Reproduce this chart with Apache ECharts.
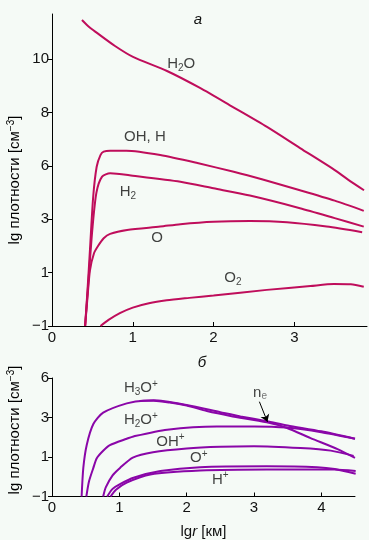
<!DOCTYPE html>
<html><head><meta charset="utf-8">
<script src="https://cdn.jsdelivr.net/npm/echarts@6/dist/echarts.min.js"></script>
<style>html,body{margin:0;padding:0;background:#f5faf6}#c{width:369px;height:540px}</style>
</head><body><div id="c"></div>
<script>
// ---------- panel а (neutrals) ----------
const topXTicks = [0, 1, 2, 3];
const topYTickLabels = ['−1', '1', '3', '6', '8', '10'];
const topYMin = -1, topYStep = 2.2, topYMax = 11.87, topXMax = 3.9;
const h2o   = [[0.371,11.62],[0.46,11.33],[0.557,11.09],[0.78,10.55],[1.003,10.1],[1.424,9.52],[1.832,8.82],[2.241,8.03],[2.662,7.21],[3.071,6.34],[3.479,5.48],[3.665,5.04],[3.863,4.6]];
const ohH   = [[0.41,-1],[0.44,0.5],[0.47,2.14],[0.51,4.33],[0.553,5.57],[0.6,6.05],[0.64,6.19],[0.72,6.23],[0.92,6.23],[1.34,6.05],[1.8,5.72],[2.25,5.36],[2.62,5.03],[3.07,4.6],[3.5,4.17],[3.86,3.75]];
const h2    = [[0.41,-1],[0.45,0.8],[0.5,3.0],[0.55,4.5],[0.62,5.16],[0.72,5.3],[1.0,5.2],[1.59,4.95],[2.0,4.68],[2.45,4.38],[3.07,3.86],[3.5,3.45],[3.86,3.1]];
const oAtom = [[0.41,-1],[0.44,0.2],[0.47,1.3],[0.52,2.0],[0.57,2.3],[0.64,2.62],[0.72,2.8],[0.93,2.96],[1.34,3.1],[1.59,3.2],[2.0,3.3],[2.45,3.33],[2.91,3.28],[3.4,3.1],[3.84,2.87]];
const o2    = [[0.6,-1],[0.7,-0.75],[0.84,-0.47],[1.0,-0.24],[1.2,-0.06],[1.42,0.06],[1.7,0.16],[2.0,0.26],[2.66,0.49],[3.2,0.65],[3.49,0.73],[3.7,0.72],[3.86,0.62]];
const topLabelTexts = ['{n|H}{sub|2}{n|O}', '{n|OH, H}', '{n|H}{sub|2}', '{n|O}', '{n|O}{sub|2}'];
const topLabelPos   = [[1.60,9.81],[1.15,6.80],[0.94,4.53],[1.30,2.63],[2.24,0.98]];

// ---------- panel б (ions) ----------
const botXTicks = [0, 1, 2, 3, 4];
const botYTickLabels = ['−1', '1', '3', '6'];
const botYMin = -1, botYStep = 7/3, botYMax = 6, botXMax = 4.5;
const h3oPlus = [[0.44,-1],[0.465,0.69],[0.515,2.03],[0.614,3.28],[0.76,3.95],[1.11,4.5],[1.36,4.66],[1.51,4.66],[1.75,4.55],[2.0,4.37],[2.3,4.05],[2.65,3.76],[3.19,3.38],[3.49,3.05],[3.84,2.45],[4.24,1.8],[4.5,1.28]];
const ne      = [[1.3,4.64],[1.51,4.68],[2.0,4.4],[2.5,3.98],[2.8,3.73],[3.19,3.45],[3.5,3.2],[4.0,2.85],[4.5,2.41]];
const h2oPlus = [[0.51,-1],[0.55,-0.1],[0.614,0.69],[0.665,1.26],[0.76,1.7],[0.86,2.03],[1.11,2.41],[1.21,2.55],[1.71,2.95],[2.45,3.14],[3.0,3.14],[3.49,3.07],[4.0,2.8],[4.5,2.41]];
const ohPlus  = [[0.76,-1],[0.8,-0.45],[0.9,0.25],[1.01,0.69],[1.2,1.3],[1.5,1.62],[2.0,1.84],[2.5,1.94],[3.0,1.97],[3.69,1.86],[4.14,1.71],[4.48,1.4]];
const oPlus   = [[0.82,-1],[0.9,-0.55],[1.01,-0.27],[1.21,0.11],[1.61,0.5],[2.2,0.73],[3.19,0.78],[3.94,0.73],[4.2,0.62],[4.51,0.34]];
const hPlus   = [[0.87,-1],[0.95,-0.6],[1.11,-0.18],[1.46,0.3],[2.2,0.53],[3.19,0.59],[4.19,0.59],[4.51,0.5]];
const botLabelTexts = ['{n|H}{sub|3}{n|O}{sup|+}', '{n|H}{sub|2}{n|O}{sup|+}', '{n|OH}{sup|+}', '{n|O}{sup|+}', '{n|H}{sup|+}', '{n|n}{sube|e}'];
const botLabelPos   = [[1.32,5.41],[1.32,3.52],[1.76,2.24],[2.18,1.26],[2.50,0.01],[3.09,5.13]];
const neArrow = [[3.08,4.6],[3.2,3.41]];

const FONT = 'Liberation Sans, Arial, Helvetica, sans-serif';
const TOPC = '#bf0d5b', BOTC = '#8a06a8';
const rich = {
  n:   {fontSize:15, lineHeight:18, color:'#111', fontFamily:FONT},
  sub: {fontSize:10, lineHeight:10, verticalAlign:'bottom', color:'#111', fontFamily:FONT},
  sube:{fontSize:10, lineHeight:10, verticalAlign:'bottom', color:'#555', fontFamily:FONT},
  sup: {fontSize:10, lineHeight:10, verticalAlign:'top', color:'#111', fontFamily:FONT},
  it:  {fontSize:15, lineHeight:18, color:'#111', fontFamily:FONT, fontStyle:'italic'}
};
function ticks(min, step, n){ const a=[]; for(let i=0;i<n;i++) a.push(min+i*step); return a; }
const topYTicks = ticks(topYMin, topYStep, topYTickLabels.length);
const botYTicks = ticks(botYMin, botYStep, botYTickLabels.length);

function xAxis(grid, max, vals){
  return {type:'value', gridIndex:grid, min:0, max:max,
    axisLine:{onZero:false, lineStyle:{color:'#000', width:1}},
    axisTick:{inside:true, length:4, customValues:vals, lineStyle:{color:'#000'}},
    axisLabel:{customValues:vals, color:'#111', fontSize:15, fontFamily:FONT, margin:4},
    splitLine:{show:false}};
}
function yAxis(grid, min, max, vals, labels, step){
  return {type:'value', gridIndex:grid, min:min, max:max,
    axisLine:{show:true, onZero:false, lineStyle:{color:'#000', width:1}},
    axisTick:{show:true, inside:false, length:4, customValues:vals, lineStyle:{color:'#000'}},
    axisLabel:{customValues:vals, color:'#111', fontSize:15, fontFamily:FONT, margin:3,
      formatter:v=>labels[Math.round((v-min)/step)]},
    splitLine:{show:false}};
}
function curve(data, color, xi, yi, extra){
  return Object.assign({type:'line', data:data, xAxisIndex:xi, yAxisIndex:yi, showSymbol:false,
    smooth:0.25, lineStyle:{color:color, width:2}, itemStyle:{color:color},
    silent:true, animation:false}, extra||{});
}
function labels(texts, pos, xi, yi){
  return {type:'scatter', xAxisIndex:xi, yAxisIndex:yi, symbolSize:0, silent:true, animation:false,
    data: pos.map((p,i)=>({value:p, name:texts[i]})),
    label:{show:true, position:'inside', formatter:p=>p.name, rich:rich}};
}

const chart = echarts.init(document.getElementById('c'), null, {renderer:'canvas'});
chart.setOption({
  backgroundColor:'#f5faf6',
  animation:false,
  textStyle:{fontFamily:FONT},
  grid:[{left:52, top:14, width:315, height:312},{left:52, top:378, width:303, height:121.5}],
  xAxis:[xAxis(0, topXMax, topXTicks), Object.assign(xAxis(1, botXMax, botXTicks), {
    name:'{n|lg}{it|r}{n| [км]}', nameLocation:'middle', nameGap:26, nameTextStyle:{rich:rich}})],
  yAxis:[yAxis(0, topYMin, topYMax, topYTicks, topYTickLabels, topYStep),
         yAxis(1, botYMin, botYMax, botYTicks, botYTickLabels, botYStep)],
  graphic:[
    {type:'text', x:198, y:20, style:{text:'а', font:'italic 15px '+FONT, fill:'#111', align:'center', verticalAlign:'middle'}},
    {type:'text', x:202, y:363, style:{text:'б', font:'italic 15px '+FONT, fill:'#111', align:'center', verticalAlign:'middle'}},
    {type:'text', x:15, y:180, rotation:Math.PI/2, style:{text:'{n|lg плотности [см}{sup|−3}{n|]}', rich:rich, align:'center', verticalAlign:'middle'}},
    {type:'text', x:15, y:430, rotation:Math.PI/2, style:{text:'{n|lg плотности [см}{sup|−3}{n|]}', rich:rich, align:'center', verticalAlign:'middle'}}
  ],
  series:[
    curve(h2o, TOPC, 0, 0), curve(ohH, TOPC, 0, 0), curve(h2, TOPC, 0, 0), curve(oAtom, TOPC, 0, 0), curve(o2, TOPC, 0, 0),
    labels(topLabelTexts, topLabelPos, 0, 0),
    curve(h3oPlus, BOTC, 1, 1), 
    curve(ne, BOTC, 1, 1, {markLine:{silent:true, animation:false, symbol:['none','arrow'], symbolSize:7,
      lineStyle:{color:'#000', width:1, type:'solid'}, label:{show:false},
      data:[[{coord:neArrow[0]},{coord:neArrow[1]}]]}}),
    curve(h2oPlus, BOTC, 1, 1), curve(ohPlus, BOTC, 1, 1), curve(oPlus, BOTC, 1, 1), curve(hPlus, BOTC, 1, 1),
    labels(botLabelTexts, botLabelPos, 1, 1)
  ]
});
</script></body></html>
